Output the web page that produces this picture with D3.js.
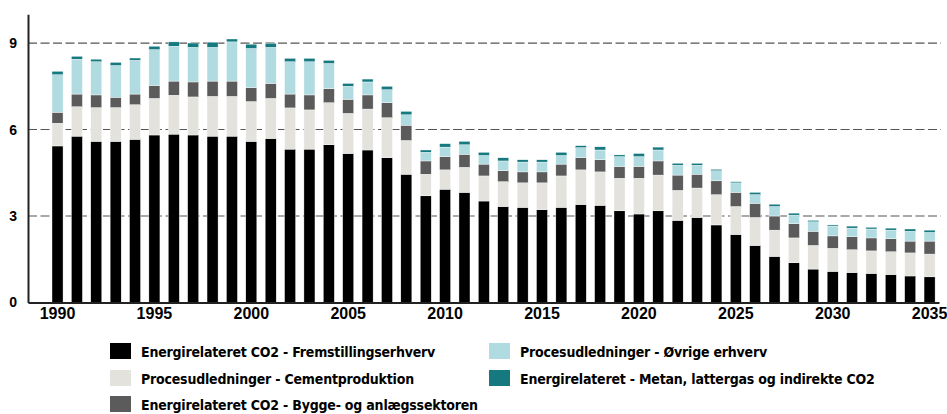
<!DOCTYPE html>
<html>
<head>
<meta charset="utf-8">
<script src="https://cdn.jsdelivr.net/npm/d3@7"></script>
<style>
  html, body { margin: 0; padding: 0; background: #fff; }
  svg { display: block; }
</style>
</head>
<body>
<svg id="chart" width="947" height="414"></svg>
<script>
const years = d3.range(1990, 2036);
const seriesNames = [
  "Energirelateret CO2 - Fremstillingserhverv",
  "Procesudledninger - Cementproduktion",
  "Energirelateret CO2 - Bygge- og anlægssektoren",
  "Procesudledninger - Øvrige erhverv",
  "Energirelateret - Metan, lattergas og indirekte CO2"
];
const fremstilling = [5.43,5.77,5.59,5.59,5.66,5.81,5.84,5.81,5.77,5.77,5.59,5.69,5.32,5.32,5.47,5.17,5.29,5.02,4.45,3.70,3.93,3.82,3.52,3.33,3.30,3.22,3.30,3.40,3.37,3.18,3.07,3.18,2.85,2.95,2.69,2.36,1.98,1.60,1.38,1.16,1.08,1.04,1.01,0.97,0.92,0.89];
const cement = [0.79,1.02,1.17,1.17,1.20,1.27,1.35,1.32,1.38,1.38,1.38,1.39,1.43,1.36,1.46,1.39,1.42,1.39,1.17,0.75,0.67,0.87,0.87,0.86,0.85,0.93,1.09,1.20,1.16,1.13,1.24,1.24,1.04,1.02,1.05,0.97,0.97,0.91,0.86,0.82,0.80,0.79,0.78,0.79,0.80,0.79];
const bygge = [0.38,0.44,0.44,0.36,0.37,0.45,0.49,0.52,0.53,0.53,0.48,0.52,0.48,0.52,0.49,0.49,0.49,0.52,0.53,0.46,0.46,0.45,0.41,0.38,0.38,0.38,0.41,0.42,0.42,0.41,0.41,0.49,0.53,0.48,0.48,0.49,0.49,0.49,0.49,0.49,0.43,0.45,0.45,0.45,0.41,0.45];
const oevrige = [1.30,1.21,1.15,1.10,1.17,1.24,1.21,1.20,1.17,1.36,1.36,1.25,1.12,1.15,0.87,0.45,0.45,0.45,0.36,0.30,0.33,0.33,0.30,0.34,0.34,0.34,0.30,0.35,0.34,0.34,0.34,0.38,0.34,0.31,0.35,0.33,0.30,0.33,0.30,0.33,0.34,0.30,0.31,0.30,0.34,0.30];
const metan = [0.12,0.10,0.09,0.11,0.08,0.12,0.15,0.15,0.18,0.10,0.15,0.14,0.12,0.12,0.11,0.10,0.10,0.12,0.12,0.08,0.12,0.12,0.11,0.11,0.08,0.08,0.11,0.07,0.11,0.06,0.11,0.10,0.07,0.07,0.05,0.04,0.08,0.08,0.07,0.05,0.04,0.07,0.06,0.07,0.08,0.08];
const yTicks = [0, 3, 6, 9];
const xTickLabels = ["1990","1995","2000","2005","2010","2015","2020","2025","2030","2035"];
const colors = ["#000000", "#e4e2dc", "#5b5b5b", "#b0dbe0", "#15797f"];

const seriesValues = [fremstilling, cement, bygge, oevrige, metan];
const keys = ["s0","s1","s2","s3","s4"];
const table = years.map((yr, i) => {
  const row = { year: yr };
  keys.forEach((k, j) => row[k] = seriesValues[j][i]);
  return row;
});
const stacked = d3.stack().keys(keys)(table);

const svg = d3.select("#chart");
const x = d3.scaleBand().domain(years).range([28, 939])
  .paddingInner(0.43).paddingOuter(0.72).align(0.86);
const y = d3.scaleLinear().domain([0, 10]).range([302.5, 14.2]);

// gridlines
svg.append("g").selectAll("line").data(yTicks.filter(d => d > 0)).join("line")
  .attr("x1", 28).attr("x2", 941)
  .attr("y1", d => y(d)).attr("y2", d => y(d))
  .attr("stroke", "#555").attr("stroke-width", 1.2)
  .attr("stroke-dasharray", "9,3.5");

// bars
svg.append("g").selectAll("g").data(stacked).join("g")
  .attr("fill", (d, i) => colors[i])
  .selectAll("rect").data(d => d).join("rect")
  .attr("x", d => x(d.data.year))
  .attr("width", x.bandwidth())
  .attr("y", d => y(d[1]))
  .attr("height", d => y(d[0]) - y(d[1]))
  .attr("stroke", "#ffffff").attr("stroke-width", 0.4);

// x axis
const xAxis = d3.axisBottom(x)
  .tickValues(years.filter(yr => xTickLabels.includes(String(yr))))
  .tickSize(0).tickSizeOuter(0).tickPadding(5);
const gx = svg.append("g").attr("transform", `translate(0,${y(0)})`).call(xAxis);
gx.select(".domain").attr("stroke", "#222").attr("stroke-width", 2);
gx.selectAll("text").attr("font-family", "'Liberation Sans', Arial, sans-serif")
  .attr("font-weight", "bold").attr("font-size", 16).attr("fill", "#000");

// y axis
const yAxis = d3.axisLeft(y).tickValues(yTicks).tickSize(0).tickSizeOuter(0).tickPadding(11)
  .tickFormat(d3.format("d"));
const gy = svg.append("g").attr("transform", "translate(28,0)").call(yAxis);
gy.select(".domain").attr("stroke", "#222").attr("stroke-width", 2);
gy.selectAll("text").attr("font-family", "'Liberation Sans', Arial, sans-serif")
  .attr("font-weight", "bold").attr("font-size", 14).attr("fill", "#000");

// legend
const legendPos = [
  { sx: 110, tx: 141, ty: 343 },
  { sx: 110, tx: 141, ty: 370 },
  { sx: 110, tx: 141, ty: 396 },
  { sx: 489, tx: 520, ty: 343 },
  { sx: 489, tx: 520, ty: 370 }
];
const lg = svg.append("g").selectAll("g").data(seriesNames).join("g");
lg.append("rect")
  .attr("x", (d, i) => legendPos[i].sx).attr("y", (d, i) => legendPos[i].ty)
  .attr("width", 21).attr("height", 16)
  .attr("fill", (d, i) => colors[i]);
lg.append("text")
  .attr("x", (d, i) => legendPos[i].tx).attr("y", (d, i) => legendPos[i].ty + 13.5)
  .attr("font-family", "'DejaVu Sans Condensed', sans-serif")
  .attr("font-weight", "bold").attr("font-size", 14).attr("fill", "#000")
  .attr("letter-spacing", -0.2)
  .text(d => d);
</script>
</body>
</html>
